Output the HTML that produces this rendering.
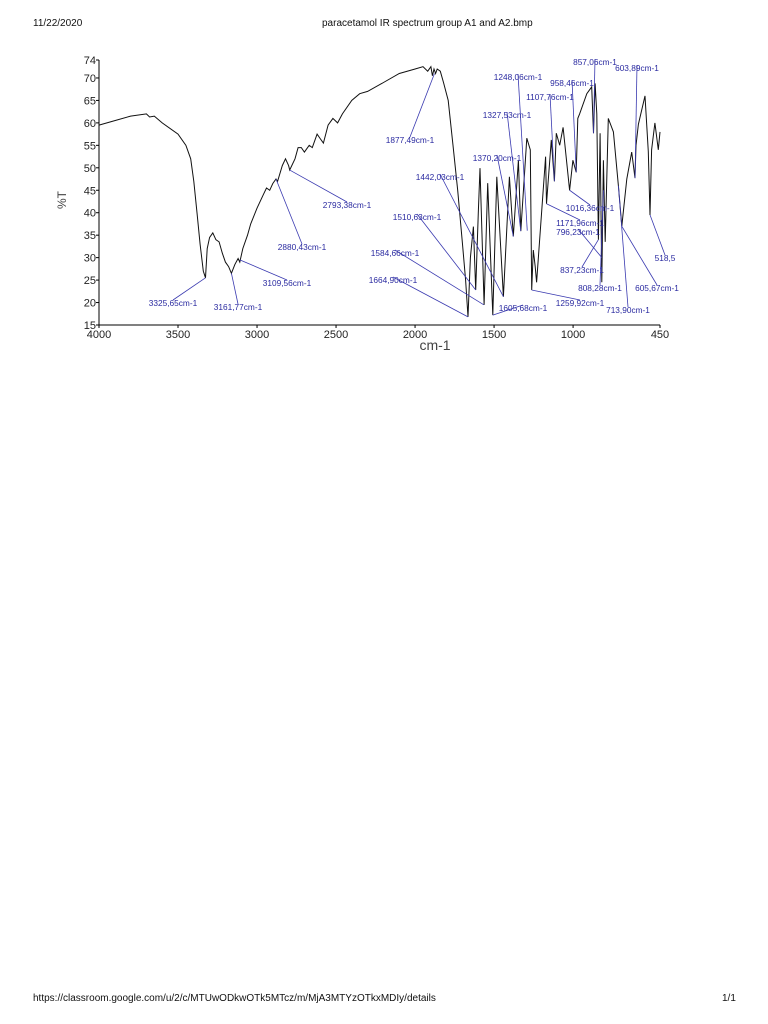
<!DOCTYPE html>
<html><head><meta charset="utf-8">
<style>
html,body{margin:0;padding:0;background:#fff;}
body{width:768px;height:1024px;position:relative;overflow:hidden;font-family:"Liberation Sans",sans-serif;}
.hdr{position:absolute;font-size:10px;color:#111;}
svg text{font-family:"Liberation Sans",sans-serif;}
</style></head>
<body>
<div class="hdr" style="left:33px;top:18px;">11/22/2020</div>
<div class="hdr" style="left:322px;top:18px;">paracetamol IR spectrum group A1 and A2.bmp</div>
<div class="hdr" style="left:33px;top:993px;">https://classroom.google.com/u/2/c/MTUwODkwOTk5MTcz/m/MjA3MTYzOTkxMDIy/details</div>
<div class="hdr" style="left:722px;top:993px;">1/1</div>

<svg id="chart" width="768" height="360" style="position:absolute;left:0;top:0;"></svg>

<script>
const xTicks = [4000,3500,3000,2500,2000,1500,1000,450];
const yTicks = [15,20,25,30,35,40,45,50,55,60,65,70,74];
const wavenumbers = [4000,3900,3800,3700,3680,3650,3600,3500,3450,3420,3400,3380,3360,3340,3326,3315,3300,3280,3260,3240,3220,3200,3180,3162,3140,3120,3109,3090,3060,3040,3000,2960,2940,2920,2900,2880,2870,2840,2820,2800,2793,2760,2740,2720,2700,2670,2650,2620,2600,2580,2550,2520,2490,2460,2400,2350,2300,2200,2100,2000,1950,1920,1900,1890,1880,1870,1860,1840,1820,1790,1760,1730,1700,1680,1665,1650,1631,1616,1600,1589,1563,1540,1508,1483,1441,1403,1378,1346,1331,1293,1271,1262,1252,1240,1231,1174,1168,1138,1118,1106,1085,1063,1022,1001,980,970,959,913,882,871,861,850,840,829,818,808,797,777,745,713,692,660,629,608,602,587,545,524,513,503,482,461,450];
const transmittance = [59.5,60.5,61.5,62,61.3,61.5,60,57.5,55,52,47,40,33,27,25.5,32,34.5,35.5,34,33.5,31,29,28,26.5,28.5,29.8,29,32,35,37.5,41,44,45.5,45,46.5,47.5,47,50.5,52,50.5,49.5,52,54.5,54.5,53.5,55,54.5,57.5,56.5,55.5,59.5,61,60,62,65,66.5,67,69,71,72,72.5,71.5,72.5,70.5,72,71,72,71.5,69,65,55,45,33,25,16.8,30,36.9,22.8,40,49.9,19.5,46.6,17.2,48,21.3,48,34.7,51.7,35.9,56.6,54,22.8,31.7,28,24.5,52.5,42,56.2,47,57.7,55,59,45,51.7,49,61,62,66.5,68,57.7,68.8,62,34,57.7,24.5,51.7,33.5,61,58,46,37,47.5,53.5,47.7,55,59.7,66,53.6,39.5,54,60,54,58];
const annLabels = ["3325,65cm-1","3161,77cm-1","3109,56cm-1","2880,43cm-1","2793,38cm-1","1877,49cm-1","1664,90cm-1","1584,66cm-1","1510,63cm-1","1442,03cm-1","1370,20cm-1","1327,53cm-1","1248,06cm-1","1605,68cm-1","1259,92cm-1","1107,76cm-1","958,46cm-1","857,06cm-1","603,89cm-1","1016,36cm-1","1171,96cm-1","796,23cm-1","837,23cm-1","808,28cm-1","713,90cm-1","605,67cm-1","518,5"];
const annWn = [3326,3162,3109,2880,2793,1877,1665,1565,1616,1441,1378,1331,1290,1508,1262,1118,980,871,608,1022,1168,818,840,808,713,692,513];
const annT = [25.5,26.5,29.5,47.5,49.5,71,16.8,19.5,22.8,21.3,34.7,35.9,36,17.2,22.8,47,49,57.7,47.7,45,42,30,34,45,46,37,39.5];
// label anchor positions (layout only)
const annPos = [[173,303],[238,307],[287,283],[302,247],[347,205],[410,140],[393,280],[395,253],[417,217],[440,177],[497,158],[507,115],[518,77],[523,308],[580,303],[550,97],[572,83],[595,62],[637,68],[590,208],[580,223],[578,232],[582,270],[600,288],[628,310],[657,288],[665,258]];

const NS="http://www.w3.org/2000/svg";
const svg=document.getElementById('chart');
const X0=99,X1=660,Y0=325,Y1=60;
const xs=v=>X0+(4000-v)/(4000-450)*(X1-X0);
const ys=v=>Y0-(v-15)/(74-15)*(Y0-Y1);
function mk(t,a){const e=document.createElementNS(NS,t);for(const k in a)e.setAttribute(k,a[k]);svg.appendChild(e);return e;}

const ya=mk('line',{x1:X0,y1:Y1,x2:X0,y2:Y0,stroke:'#000','stroke-width':1});


const xa=mk('line',{x1:X0,y1:Y0,x2:X1,y2:Y0,stroke:'#000','stroke-width':1});



yTicks.forEach(v=>{
  mk('line',{x1:X0-3,y1:ys(v),x2:X0,y2:ys(v),stroke:'#000'});
  const t=mk('text',{x:X0-3,y:ys(v)+4,'text-anchor':'end','font-size':11,fill:'#222'});
  t.textContent=v;
  
  
});
xTicks.forEach(v=>{
  mk('line',{x1:xs(v),y1:Y0,x2:xs(v),y2:Y0+3,stroke:'#000'});
  const t=mk('text',{x:xs(v),y:Y0+13,'text-anchor':'middle','font-size':11,fill:'#222'});
  t.textContent=v;
  
  
});
const xt=mk('text',{x:435,y:350,'text-anchor':'middle','font-size':14,fill:'#444'});
xt.textContent='cm-1';


const yt=mk('text',{x:66,y:200,'text-anchor':'middle','font-size':12,fill:'#444',transform:'rotate(-90 66 200)'});
yt.textContent='%T';



let d='';
wavenumbers.forEach((w,i)=>{d+=(i?'L':'M')+xs(w).toFixed(1)+','+ys(transmittance[i]).toFixed(1);});
const ln=mk('path',{d:d,fill:'none',stroke:'#111','stroke-width':1});



annLabels.forEach((s,i)=>{
  const [lx,ly]=annPos[i];
  const l=mk('line',{x1:lx,y1:ly-3,x2:xs(annWn[i]),y2:ys(annT[i]),stroke:'#3a3ab0','stroke-width':0.8});
  
  
  const t=mk('text',{x:lx,y:ly+3,'text-anchor':'middle','font-size':8.3,fill:'#2a2aa0'});
  t.textContent=s;
  
  
});
</script>
</body></html>
